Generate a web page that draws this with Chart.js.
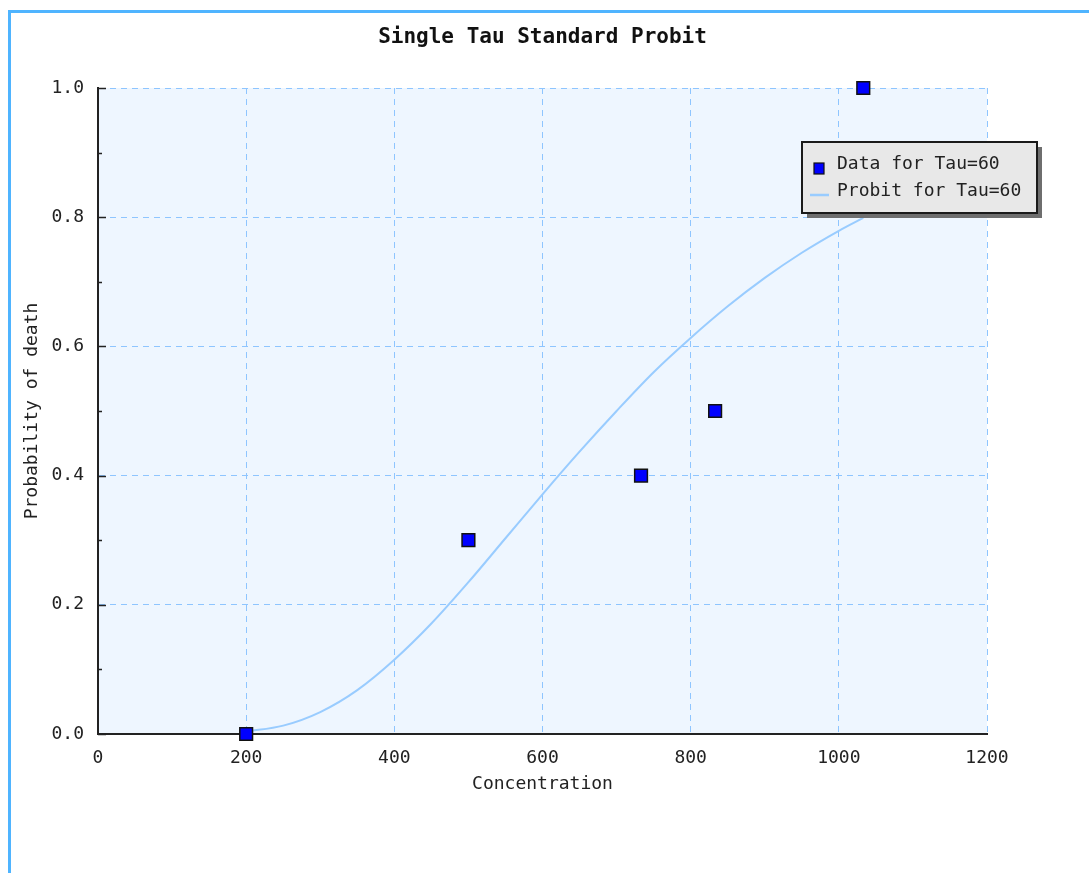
<!DOCTYPE html>
<html><head><meta charset="utf-8">
<script src="https://cdn.jsdelivr.net/npm/chart.js@4/dist/chart.umd.min.js"></script>
<style>
html,body{margin:0;padding:0;background:#fff;overflow:hidden;width:1089px;height:873px;}
#frame{position:absolute;left:8px;top:10px;width:1300px;height:1000px;border-left:3px solid #4fb4ff;border-top:3px solid #4fb4ff;}
#wrap{position:absolute;left:0;top:0;width:1089px;height:873px;}
</style></head><body>
<div id="frame"></div>
<div id="wrap"><canvas id="c" width="1089" height="873"></canvas></div>
<script>
const chartTitle = 'Single Tau Standard Probit';
const xAxisTitle = 'Concentration';
const yAxisTitle = 'Probability of death';
const dataLabel = 'Data for Tau=60';
const probitLabel = 'Probit for Tau=60';

const dataConc = [200, 500, 733, 833, 1033];
const dataProb = [0.0, 0.3, 0.4, 0.5, 1.0];

const probitConc = [200, 250, 300, 350, 400, 450, 500, 550, 600, 650, 700, 750, 800, 850, 900, 950, 1000, 1033];
const probitProb = [0.004, 0.013, 0.034, 0.068, 0.115, 0.171, 0.235, 0.303, 0.371, 0.437, 0.500, 0.560, 0.613, 0.662, 0.706, 0.745, 0.779, 0.799];

const xTickValues = [0, 200, 400, 600, 800, 1000, 1200];
const yTickValues = [0, 0.2, 0.4, 0.6, 0.8, 1.0];
const yTickLabels = ['0.0', '0.2', '0.4', '0.6', '0.8', '1.0'];
const yMinorTicks = [0.1, 0.3, 0.5, 0.7, 0.9];

const FONT = "'DejaVu Sans Mono', monospace";
Chart.defaults.font.family = FONT;
Chart.defaults.color = '#222';

const plotBg = {
  id: 'plotBg',
  beforeDraw(chart) {
    const {ctx, chartArea: a} = chart;
    ctx.save();
    ctx.fillStyle = '#eef6ff';
    ctx.fillRect(a.left, a.top, a.right - a.left, a.bottom - a.top);
    ctx.restore();
  }
};

const innerTicks = {
  id: 'innerTicks',
  afterDraw(chart) {
    const {ctx, chartArea: a} = chart;
    const ys = chart.scales.y;
    ctx.save();
    ctx.strokeStyle = '#222';
    ctx.lineWidth = 1.5;
    ctx.beginPath();
    yTickValues.forEach(v => { const p = Math.round(ys.getPixelForValue(v)) + 0.5; ctx.moveTo(a.left, p); ctx.lineTo(a.left + 8, p); });
    yMinorTicks.forEach(v => { const p = Math.round(ys.getPixelForValue(v)) + 0.5; ctx.moveTo(a.left, p); ctx.lineTo(a.left + 4, p); });
    ctx.stroke();
    ctx.restore();
  }
};

const boxLegend = {
  id: 'boxLegend',
  afterDraw(chart) {
    const {ctx, chartArea: a} = chart;
    const ds = chart.data.datasets;
    const x = a.right - 185, y = a.top + 54, w = 235, h = 71;
    ctx.save();
    ctx.fillStyle = '#6e6e6e';
    ctx.fillRect(x + 5, y + 5, w, h);
    ctx.fillStyle = '#e8e8e8';
    ctx.fillRect(x, y, w, h);
    ctx.strokeStyle = '#1a1a1a';
    ctx.lineWidth = 2;
    ctx.strokeRect(x, y, w, h);
    ctx.fillStyle = ds[0].backgroundColor;
    ctx.fillRect(x + 12, y + 21, 10, 11);
    ctx.strokeStyle = ds[0].borderColor;
    ctx.lineWidth = 1.2;
    ctx.strokeRect(x + 12, y + 21, 10, 11);
    ctx.strokeStyle = ds[1].borderColor;
    ctx.lineWidth = 2.5;
    ctx.beginPath();
    ctx.moveTo(x + 8, y + 53);
    ctx.lineTo(x + 27, y + 53);
    ctx.stroke();
    ctx.fillStyle = '#222';
    ctx.font = "18px " + FONT;
    ctx.textBaseline = 'middle';
    ctx.textAlign = 'left';
    ctx.fillText(ds[0].label, x + 35, y + 22);
    ctx.fillText(ds[1].label, x + 35, y + 49);
    ctx.restore();
  }
};

new Chart(document.getElementById('c'), {
  type: 'scatter',
  data: {
    datasets: [
      {
        label: dataLabel,
        data: dataConc.map((c, i) => ({x: c, y: dataProb[i]})),
        pointStyle: 'rect',
        pointRadius: 9,
        backgroundColor: '#0000ff',
        borderColor: '#111111',
        borderWidth: 1.5,
        clip: false,
        order: 0
      },
      {
        label: probitLabel,
        data: probitConc.map((c, i) => ({x: c, y: probitProb[i]})),
        showLine: true,
        pointRadius: 0,
        borderColor: '#99ccff',
        backgroundColor: '#99ccff',
        borderWidth: 2,
        cubicInterpolationMode: 'monotone',
        order: 1
      }
    ]
  },
  options: {
    responsive: false,
    animation: false,
    devicePixelRatio: 1,
    events: [],
    layout: {padding: {left: 0, right: 102, top: 0, bottom: 0}},
    plugins: {
      legend: {display: false},
      tooltip: {enabled: false},
      title: {
        display: true,
        fullSize: false,
        text: chartTitle,
        color: '#111',
        font: {size: 21, weight: 'bold', family: FONT, lineHeight: 1.2},
        padding: {top: 25, bottom: 37.8}
      }
    },
    scales: {
      x: {
        type: 'linear',
        min: 0, max: 1200,
        afterBuildTicks: s => { s.ticks = xTickValues.map(v => ({value: v})); },
        afterFit: s => { s.height = 139; },
        ticks: {padding: 14, color: '#222', font: {size: 18}, callback: v => String(v)},
        grid: {color: '#8ec5ff', lineWidth: 1, drawTicks: false},
        border: {display: true, color: '#222', width: 2, dash: [6, 5]},
        title: {display: true, text: xAxisTitle, color: '#222', font: {size: 18, lineHeight: 1.2}, padding: {top: 0, bottom: 78}}
      },
      y: {
        type: 'linear',
        min: 0, max: 1,
        afterBuildTicks: s => { s.ticks = yTickValues.map(v => ({value: v})); },
        afterFit: s => { s.width = 98; },
        ticks: {padding: 14, color: '#222', font: {size: 18}, callback: (v) => yTickLabels[yTickValues.findIndex(t => Math.abs(t - v) < 1e-9)]},
        grid: {color: '#8ec5ff', lineWidth: 1, drawTicks: false},
        border: {display: true, color: '#222', width: 2, dash: [6, 5]},
        title: {display: true, text: yAxisTitle, color: '#222', font: {size: 18, lineHeight: 1.2}, padding: {top: 22, bottom: 0}}
      }
    }
  },
  plugins: [plotBg, innerTicks, boxLegend]
});
</script>
</body></html>
